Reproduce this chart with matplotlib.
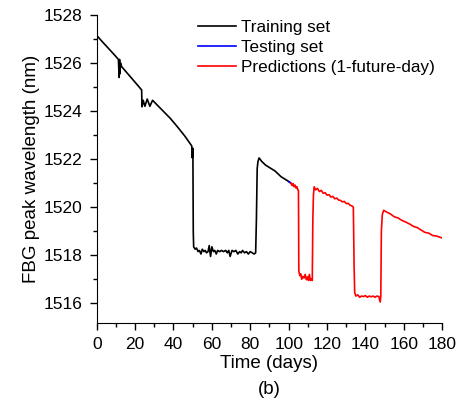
import matplotlib
matplotlib.use("Agg")
import matplotlib.pyplot as plt
from matplotlib.ticker import MultipleLocator

plt.rcParams['font.family'] = ['Liberation Sans', 'DejaVu Sans']

# training set (black)
train_days = [0, 3, 6, 9, 11.3, 11.7, 11.9, 12.1, 12.4, 13, 16, 20, 23.4, 23.6,
              24.2, 25.1, 26.3, 27.7, 29.1, 30.3, 34, 38.3, 42, 46, 49.5, 49.8,
              50.1, 50.3, 50.5, 51.3, 52, 52.8, 53.5, 54.3, 55, 55.8, 56.5, 57.2,
              58, 58.6, 59.3, 60, 60.8, 61.5, 62.3, 63, 64, 65, 66, 67.2, 68, 68.8,
              69.5, 70.5, 71.5, 72.5, 73.5, 74.5, 75.3, 76, 77, 78, 79, 80, 81,
              82, 82.8, 83.2, 83.6, 84.0, 84.6, 86, 88, 90, 93, 96, 99, 100.5]
train_nm = [1527.15, 1526.88, 1526.62, 1526.36, 1526.15, 1525.4, 1526.15, 1525.55,
            1526.0, 1525.85, 1525.57, 1525.2, 1524.88, 1524.18,
            1524.45, 1524.2, 1524.5, 1524.2, 1524.45, 1524.35, 1524.05, 1523.7,
            1523.35, 1522.95, 1522.55, 1522.05,
            1522.45, 1519.0, 1518.35, 1518.25, 1518.3, 1518.15, 1518.2, 1518.05,
            1518.25, 1518.15, 1518.2, 1518.1, 1518.15, 1518.4, 1517.95, 1518.35,
            1518.15, 1518.2, 1518.05, 1518.2, 1518.15, 1518.2, 1518.15, 1518.2,
            1518.1, 1518.2, 1517.95, 1518.2, 1518.15, 1518.2, 1518.05, 1518.15,
            1518.1, 1518.2, 1518.1, 1518.15, 1518.05, 1518.15, 1518.1,
            1518.05, 1518.1, 1519.5, 1521.6, 1521.9, 1522.05, 1521.9, 1521.75,
            1521.65, 1521.5, 1521.27, 1521.12, 1521.05]

# testing set (blue)
test_days = [100.0, 100.7, 101.5]
test_nm = [1521.06, 1521.02, 1520.98]

# predictions, 1-future-day (red)
pred_days = [101.2, 101.8, 102.3, 102.8, 103.3, 103.8, 104.3, 104.8, 105.1, 105.3,
             105.8, 106.3, 106.8, 107.4, 108.0, 108.6, 109.2, 109.8, 110.3, 110.8,
             111.3, 111.9, 112.3, 112.6, 112.9, 113.3, 114, 115, 116, 117, 118, 119,
             120, 121, 122, 123, 124, 125, 126, 127, 128, 129, 130, 131, 132, 133,
             133.7, 134.1, 134.4, 135, 136, 137, 138, 139, 140, 141, 142, 143, 144,
             145, 146, 147, 147.7, 148.0, 148.3, 148.8, 149.5, 151, 153, 155, 157,
             159, 161, 163, 165, 167, 169, 171, 173, 175, 177, 179.9]
pred_nm = [1521.0, 1520.9, 1520.98, 1520.85, 1520.92, 1520.8, 1520.85, 1520.72,
           1520.7, 1517.35,
           1517.15, 1517.22, 1517.0, 1517.12, 1517.05, 1517.2, 1516.98, 1517.1,
           1516.95, 1517.2, 1516.95, 1517.0, 1516.95, 1519.5, 1520.5, 1520.85,
           1520.72, 1520.78, 1520.65, 1520.7, 1520.58, 1520.6, 1520.5, 1520.52,
           1520.42, 1520.45, 1520.35, 1520.38, 1520.3, 1520.28, 1520.22, 1520.24,
           1520.15, 1520.16, 1520.08, 1520.05,
           1520.0, 1517.5, 1516.45, 1516.3, 1516.35, 1516.25, 1516.3, 1516.28,
           1516.32, 1516.25, 1516.3, 1516.27, 1516.3, 1516.25, 1516.3, 1516.28,
           1516.05, 1516.3, 1519.0, 1519.7, 1519.87, 1519.8, 1519.72, 1519.6,
           1519.55, 1519.45, 1519.38, 1519.3, 1519.2, 1519.15, 1519.05, 1518.95,
           1518.92, 1518.82, 1518.8, 1518.72]

fig = plt.figure(figsize=(4.65, 4.0), dpi=100)
ax = fig.add_axes([0.208, 0.192, 0.743, 0.7705])

ax.plot(train_days, train_nm, color='black', lw=1.2, label='Training set')
ax.plot(test_days, test_nm, color='blue', lw=1.2, label='Testing set')
ax.plot(pred_days, pred_nm, color='red', lw=1.2, label='Predictions (1-future-day)')

ax.set_xlim(0, 180)
ax.set_ylim(1515.17, 1528)
ax.xaxis.set_major_locator(MultipleLocator(20))
ax.xaxis.set_minor_locator(MultipleLocator(10))
ax.yaxis.set_major_locator(MultipleLocator(2))
ax.yaxis.set_minor_locator(MultipleLocator(1))
ax.tick_params(which='major', direction='out', length=5, width=1, labelsize=12.5, pad=5)
ax.tick_params(which='minor', direction='out', length=3, width=1)
ax.spines['top'].set_visible(False)
ax.spines['right'].set_visible(False)
ax.ticklabel_format(axis='y', useOffset=False)

ax.set_xlabel('Time (days)', fontsize=13.5, labelpad=2)
ax.set_ylabel('FBG peak wavelength (nm)', fontsize=13.5, labelpad=3)
fig.text(0.58, 0.025, '(b)', ha='center', va='center', fontsize=13.5)

ax.legend(loc='upper left', bbox_to_anchor=(0.25, 1.035), frameon=False, fontsize=12.3,
          handlelength=2.2, handletextpad=0.3, labelspacing=0.3)

fig.savefig('out.png', dpi=100)
